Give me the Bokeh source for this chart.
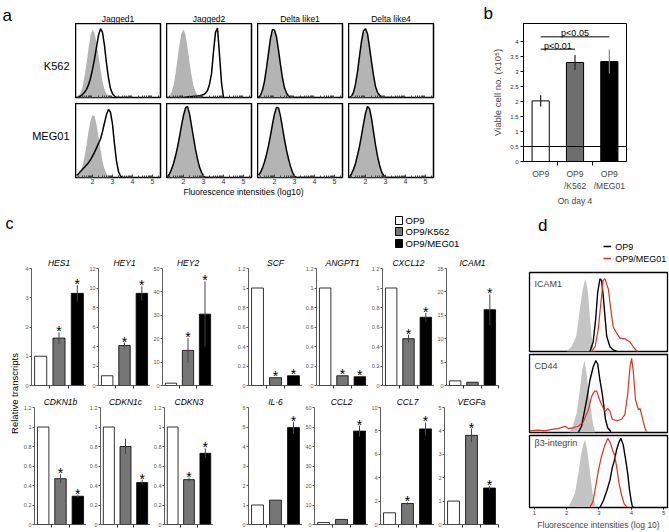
import math
from bokeh.plotting import figure
from bokeh.layouts import row, column
from bokeh.models import Range1d, FixedTicker, Label, LinearAxis, Span, NumeralTickFormatter, Title
from bokeh.core.properties import value
from bokeh.embed import file_html
from bokeh.resources import INLINE

FONT = "Liberation Sans"

# ---------------- panel a : flow histograms (log10 intensity) ----------------
a_ligands = ["Jagged1", "Jagged2", "Delta like1", "Delta like4"]
a_cells = ["K562", "MEG01"]
a_ticks = [2, 3, 4, 5]
a_x = [1.2, 1.3, 1.4, 1.5, 1.6, 1.7, 1.8, 1.9, 2.0, 2.1, 2.2, 2.3, 2.4, 2.5, 2.6,
       2.7, 2.8, 2.9, 3.0, 3.1, 3.2, 3.3, 3.4, 3.5, 3.6, 3.7, 3.8, 3.9, 4.0]
a_k562_isotype = [
    [0, .02, .06, .14, .28, .46, .66, .84, .92, .88, .74, .56, .38, .22, .11, .05, .02],
    [0, .02, .07, .16, .32, .52, .72, .87, .92, .85, .68, .48, .30, .16, .08, .03, .01],
    [0, .03, .09, .20, .38, .58, .76, .88, .90, .80, .62, .42, .25, .12, .05, .02],
    [0, .02, .07, .17, .33, .54, .74, .87, .90, .83, .66, .46, .28, .14, .06, .02],
]
a_k562_stain = [
    [0, 0, .02, .04, .07, .11, .17, .26, .38, .52, .68, .84, .93, .88, .70, .46, .26, .12, .05, .02],
    [0, 0, 0, 0, 0, 0, 0, 0, 0, .005, .008, .01, .012, .015, .018, .02, .025, .03, .04, .06,
     .09, .18, .32, .62, .88, .94, .58, .20, 0],
    [0, .03, .10, .22, .40, .60, .80, .92, .91, .82, .64, .44, .26, .13, .06, .02, .01],
    [0, .02, .07, .18, .35, .56, .76, .90, .93, .86, .68, .48, .30, .15, .07, .03, .01],
]
a_meg01_isotype = [
    [.01, .03, .08, .16, .28, .44, .62, .77, .84, .83, .72, .55, .38, .22, .11, .05, .02],
    [.02, .06, .12, .20, .30, .42, .56, .71, .85, .94, .93, .82, .66, .50, .35, .22, .12, .05, .01],
    [.04, .08, .14, .22, .32, .44, .58, .72, .86, .94, .92, .80, .64, .48, .34, .22, .12, .05, .01],
    [.01, .05, .10, .18, .28, .40, .55, .70, .85, .94, .92, .78, .60, .42, .27, .15, .07, .02],
]
a_meg01_stain = [
    [.03, .05, .08, .11, .14, .17, .20, .24, .29, .34, .40, .46, .52, .62, .74, .85, .92, .88,
     .72, .45, .22, .08, .02],
    [.01, .05, .11, .19, .29, .41, .55, .70, .84, .94, .96, .86, .70, .54, .38, .25, .14, .07, .02],
    [.03, .07, .13, .21, .31, .43, .57, .72, .86, .95, .94, .83, .67, .51, .37, .25, .15, .07, .02],
    [.01, .05, .11, .19, .30, .42, .57, .72, .87, .96, .93, .80, .62, .44, .29, .17, .08, .03],
]

# ---------------- panel b : viable cells ----------------
b_groups = ["OP9", "OP9\n/K562", "OP9\n/MEG01"]
b_values = [2.02, 3.30, 3.33]
b_errors = [0.19, 0.25, 0.40]
b_ticks = [0, 0.5, 1, 1.5, 2, 2.5, 3, 3.5, 4]
b_threshold = 0.5
b_sig_text = ["p<0.01", "p<0.05"]
b_sig_from = [0, 0]
b_sig_to = [1, 2]
b_sig_y = [3.74, 4.16]

# ---------------- panel c : relative transcripts ----------------
c_groups = ["OP9", "OP9/K562", "OP9/MEG01"]
c_genes = ["HES1", "HEY1", "HEY2", "SCF", "ANGPT1", "CXCL12", "ICAM1",
           "CDKN1b", "CDKN1c", "CDKN3", "IL-6", "CCL2", "CCL7", "VEGFa"]
c_op9 = [1.0, 1.0, 1.0, 1.0, 1.0, 1.0, 1.0, 1.0, 1.0, 1.0, 1.0, 1.0, 1.0, 1.0]
c_k562 = [1.62, 4.1, 15.0, 0.08, 0.10, 0.48, 0.7, 0.47, 0.80, 0.46, 1.25, 2.6, 1.8, 3.81]
c_k562_err = [0.2, 0.3, 5.3, 0.005, 0.005, 0.04, 0, 0.045, 0.08, 0.02, 0, 0, 0.1, 0.29]
c_meg01 = [3.15, 9.45, 30.5, 0.10, 0.09, 0.70, 16.2, 0.29, 0.43, 0.73, 4.97, 47.9, 8.17, 1.56]
c_meg01_err = [0.28, 0.75, 14.0, 0.005, 0.005, 0.045, 3.3, 0.015, 0.03, 0.05, 0.3, 2.8, 0.55, 0.08]
c_k562_star = [1, 1, 1, 1, 1, 1, 0, 1, 0, 1, 0, 0, 1, 1]
c_meg01_star = [1, 1, 1, 1, 1, 1, 1, 1, 1, 1, 1, 1, 1, 1]
c_ymax = [4, 12, 50, 1.2, 1.2, 1.2, 25, 1.2, 1.2, 1.2, 6, 60, 10, 5]
c_ystep = [1, 2, 10, 0.2, 0.2, 0.2, 5, 0.2, 0.2, 0.2, 1, 10, 2, 1]

# ---------------- panel d : flow histograms ----------------
d_markers = ["ICAM1", "CD44", "\u03b23-integrin"]
d_ticks = [1, 2, 3, 4, 5]
d_iso_x = [
    [2.0, 2.15, 2.3, 2.41, 2.48, 2.57, 2.62, 2.67, 2.72, 2.77, 2.82, 2.88],
    [2.1, 2.2, 2.31, 2.41, 2.48, 2.55, 2.59, 2.65, 2.72, 2.77, 2.82, 2.88],
    [2.05, 2.15, 2.26, 2.36, 2.44, 2.52, 2.57, 2.63, 2.69, 2.75, 2.8, 2.86, 2.9],
]
d_iso_y = [
    [0, .06, .2, .54, .75, .92, .85, .71, .42, .2, .06, 0],
    [0, .1, .25, .55, .8, .92, .84, .63, .42, .25, .1, .02],
    [0, .09, .21, .47, .72, .89, .94, .81, .6, .38, .21, .08, .01],
]
d_op9_x = [
    [2.72, 2.82, 2.9, 2.96, 3.03, 3.08, 3.13, 3.19, 3.24, 3.34, 3.44, 3.55],
    [2.36, 2.46, 2.55, 2.62, 2.72, 2.82, 2.9, 2.96, 3.03, 3.1, 3.16, 3.2, 3.27, 3.37],
    [3.03, 3.13, 3.24, 3.34, 3.41, 3.47, 3.55, 3.62, 3.68, 3.75, 3.82, 3.89, 3.94, 3.99, 4.03, 4.07],
]
d_op9_y = [
    [0, .12, .42, .75, .92, .9, .71, .42, .19, .06, .02, 0],
    [0, .08, .27, .42, .67, .84, .92, .88, .67, .5, .31, .17, .06, .01],
    [0, .09, .23, .38, .55, .64, .81, .91, .96, .87, .68, .47, .26, .11, .02, 0],
]
d_meg01_x = [
    [2.77, 2.88, 2.98, 3.06, 3.13, 3.19, 3.24, 3.29, 3.34, 3.39, 3.44, 3.55, 3.65, 3.8, 3.96,
     4.06, 4.16, 4.2],
    [0.87, 1.12, 1.33, 1.54, 1.74, 1.95, 2.05, 2.2, 2.36, 2.51, 2.67, 2.77, 2.86, 2.93, 3.0, 3.1,
     3.19, 3.27, 3.34, 3.41, 3.55, 3.7, 3.8, 3.89, 3.96, 4.01, 4.06, 4.13, 4.22, 4.27, 4.34, 4.42, 4.47],
    [2.72, 2.82, 2.9, 2.98, 3.06, 3.17, 3.27, 3.34, 3.41, 3.49, 3.55, 3.62, 3.7, 3.78, 3.86],
]
d_meg01_y = [
    [0, .06, .29, .62, .9, .92, .85, .79, .62, .46, .31, .23, .17, .16, .12, .06, .01, 0],
    [.02, .03, .02, .04, .05, .08, .05, .06, .08, .13, .29, .46, .53, .53, .44, .34, .27, .31, .27,
     .17, .15, .17, .23, .5, .84, .95, .79, .42, .29, .31, .19, .06, .01],
    [0, .09, .3, .51, .68, .85, .96, .91, .81, .72, .55, .34, .17, .05, .01],
]

GREY_A = "#b4b4b4"
GREY_D = "#c4c4c4"
BAR_GREY = "#767676"
RED = "#e0301e"


def pad(lst):
    return list(lst) + [0] * (len(a_x) - len(lst))


def base_fig(w, h, xr, yr, left=0, right=0, top=0, bottom=0, title=None):
    p = figure(width=w, height=h, x_range=xr, y_range=yr, output_backend="svg",
               toolbar_location=None, x_axis_location=None, y_axis_location=None,
               min_border_left=left, min_border_right=right, min_border_top=top,
               min_border_bottom=bottom, title=title)
    p.xgrid.visible = False
    p.ygrid.visible = False
    p.outline_line_color = None
    p.background_fill_color = "white"
    p.border_fill_color = "white"
    return p


def text_fig(w, h):
    return base_fig(w, h, Range1d(0, w), Range1d(h, 0))


def put(p, x, y, s, size, align="left", baseline="middle", angle=0, style="normal", color="black"):
    p.text(x=[x], y=[y], text=[s], text_font=value(FONT), text_font_size=size,
           text_align=align, text_baseline=baseline, angle=angle,
           text_font_style=style, text_color=color)


# ======================= panel a (x 0..440, y 0..208) =======================
a_minor = [d + math.log10(k) for d in range(1, 6) for k in range(2, 10)
           if 1.15 < d + math.log10(k) < 5.4]

a_left = text_fig(75, 208)
put(a_left, 2, 15, "a", "17px", baseline="alphabetic")
put(a_left, 69, 65, a_cells[0], "11px", align="right")
put(a_left, 69, 135, a_cells[1], "11px", align="right")

a_titles = text_fig(365, 23)
for k, lig in enumerate(a_ligands):
    put(a_titles, 42.5 + 91 * k, 18, lig, "8.5px", align="center")


def a_hist(iso, stain, bottom_axis):
    h = 83 if bottom_axis else 80
    bb = 9 if bottom_axis else 6
    p = base_fig(91, h, Range1d(1.15, 5.4), Range1d(0, 1.0), right=6, bottom=bb)
    p.outline_line_color = "black"
    p.outline_line_width = 1.5
    p.varea(x=a_x, y1=0, y2=pad(iso), fill_color=GREY_A)
    p.line(a_x, pad(stain), line_color="black", line_width=1.5)
    ax = LinearAxis(ticker=FixedTicker(ticks=a_ticks if bottom_axis else [], minor_ticks=a_minor),
                    major_tick_in=3, major_tick_out=0, minor_tick_in=2, minor_tick_out=0,
                    major_label_standoff=1, major_label_text_font_size="7px",
                    major_label_text_font=FONT, major_label_text_color="#333333",
                    axis_line_color=None, major_tick_line_color="#444444",
                    minor_tick_line_color="#444444")
    p.add_layout(ax, "below")
    return p


a_row1 = row(*[a_hist(a_k562_isotype[k], a_k562_stain[k], False) for k in range(4)])
a_row2 = row(*[a_hist(a_meg01_isotype[k], a_meg01_stain[k], True) for k in range(4)])
a_xlab = text_fig(365, 22)
put(a_xlab, 168, 5, "Fluorescence intensities (log10)", "8.5px", align="center")
panel_a = row(a_left, column(a_titles, a_row1, a_row2, a_xlab))

# ======================= panel b (x 440..669, y 0..208) =======================
b_title = Title(text="b", align="left", offset=-40, text_font=FONT, text_font_size="17px",
                text_font_style="normal", text_color="black", standoff=2)
fb = base_fig(229, 208, Range1d(0, 3), Range1d(0, 4.6), left=83, right=43, top=23, bottom=47,
              title=b_title)
fb.outline_line_color = "black"
fb.outline_line_width = 1
b_x = [i + 0.5 for i in range(len(b_groups))]
fb.vbar(x=b_x, width=0.5, bottom=0, top=b_values, fill_color=["white", "#6e6e6e", "black"],
        line_color="black", line_width=1)
fb.segment(x0=b_x, y0=[v - e for v, e in zip(b_values, b_errors)], x1=b_x,
           y1=[v + e for v, e in zip(b_values, b_errors)],
           line_color=["#222222", "#222222", "#888888"], line_width=1.2)
fb.add_layout(Span(location=b_threshold, dimension="width", line_color="black", line_width=1.2))
fb.segment(x0=[b_x[i] for i in b_sig_from], y0=b_sig_y, x1=[b_x[i] for i in b_sig_to], y1=b_sig_y,
           line_color="#555555", line_width=1.5)
fb.text(x=[(b_x[a] + b_x[b]) / 2 for a, b in zip(b_sig_from, b_sig_to)],
        y=[y + 0.12 for y in b_sig_y], text=b_sig_text, text_font=value(FONT),
        text_font_size="9px", text_align="center", text_baseline="alphabetic")
yax = LinearAxis(ticker=FixedTicker(ticks=b_ticks), formatter=NumeralTickFormatter(format="0.[0]"),
                 axis_label="Viable cell no. (x10\u2075)", axis_label_text_font=FONT,
                 axis_label_text_font_size="9.5px", axis_label_text_font_style="normal",
                 axis_label_standoff=4, major_label_text_font=FONT,
                 major_label_text_font_size="6px", major_label_text_color="#333333",
                 major_tick_out=3, major_tick_in=0, minor_tick_out=0, major_label_standoff=2)
fb.add_layout(yax, "left")
xax = LinearAxis(ticker=FixedTicker(ticks=b_x, minor_ticks=[1, 2]),
                 major_label_overrides={b_x[i]: b_groups[i] for i in range(3)},
                 axis_label="On day 4", axis_label_text_font=FONT,
                 axis_label_text_font_size="8.5px", axis_label_text_font_style="normal",
                 axis_label_standoff=2, major_label_text_font=FONT,
                 major_label_text_font_size="8.5px", major_tick_out=0, major_tick_in=0,
                 minor_tick_out=4, minor_tick_in=0, major_label_standoff=3)
fb.add_layout(xax, "below")
panel_b = fb

# ======================= panel c (x 0..505, y 208..532) =======================
c_left = text_fig(20, 324)
put(c_left, 5, 15, "c", "16px", baseline="alphabetic")
put(c_left, 14, 185, "Relative transcripts", "9.5px", align="center", angle=math.pi / 2)

c_colors = ["white", BAR_GREY, "black"]
c_strip = text_fig(485, 40)
c_strip.rect(x=[378.5] * 3, y=[12, 23, 35], width=7, height=8, fill_color=c_colors,
             line_color="black", line_width=1)
for j, g in enumerate(c_groups):
    put(c_strip, 385, [12, 23, 35][j], g, "9.5px")

c_widths = [66, 64, 63, 89, 66, 66, 71]
c_lb = [11, 11, 9, 35, 12, 12, 10]
c_rb = [0, 0, 0, 0, 0, 0, 7]


def c_chart(i, col, h, top, bottom):
    t = Title(text=c_genes[i], align="center", text_font=FONT, text_font_size="8.5px",
              text_font_style="italic", text_color="black", standoff=2)
    p = base_fig(c_widths[col], h, Range1d(0, 3), Range1d(0, c_ymax[i]), left=c_lb[col],
                 right=c_rb[col], top=top, bottom=bottom, title=t)
    cx = [0.5, 1.5, 2.5]
    vals = [c_op9[i], c_k562[i], c_meg01[i]]
    errs = [0, c_k562_err[i], c_meg01_err[i]]
    p.vbar(x=cx, width=0.66, bottom=0, top=vals, fill_color=c_colors, line_color="black",
           line_width=0.8)
    ex = [cx[j] for j in range(3) if errs[j] > 0]
    if ex:
        p.segment(x0=ex, x1=ex, y0=[vals[j] - errs[j] for j in range(3) if errs[j] > 0],
                  y1=[vals[j] + errs[j] for j in range(3) if errs[j] > 0],
                  line_color="#444444", line_width=1)
    stars = [j for j, s in ((1, c_k562_star[i]), (2, c_meg01_star[i])) if s]
    p.text(x=[cx[j] for j in stars], y=[vals[j] + errs[j] for j in stars], text=["*"] * len(stars),
           text_font=value(FONT), text_font_size="14px", text_align="center",
           text_baseline="alphabetic", y_offset=-1)
    n = int(round(c_ymax[i] / c_ystep[i]))
    ticks = [round(k * c_ystep[i], 3) for k in range(n + 1)]
    ya = LinearAxis(ticker=FixedTicker(ticks=ticks), formatter=NumeralTickFormatter(format="0.[0]"),
                    major_label_text_font=FONT, major_label_text_font_size="5.5px",
                    major_label_text_color="#555555", major_tick_out=2, major_tick_in=0,
                    major_label_standoff=1, axis_line_color="#333333", axis_line_width=0.8,
                    major_tick_line_color="#555555")
    p.add_layout(ya, "left")
    xa = LinearAxis(ticker=FixedTicker(ticks=[], minor_ticks=[1, 2, 3]), minor_tick_out=3,
                    minor_tick_in=0, axis_line_color="#333333", axis_line_width=0.8,
                    minor_tick_line_color="#333333")
    p.add_layout(xa, "below")
    return p


c_row1 = row(*[c_chart(i, i, 144, 20, 7) for i in range(7)])
c_row2 = row(*[c_chart(7 + i, i, 140, 15, 8) for i in range(7)])
panel_c = row(c_left, column(c_strip, c_row1, c_row2))

# ======================= panel d (x 505..669, y 208..532) =======================
d_strip = text_fig(164, 63)
put(d_strip, 10, 17, "d", "17px", baseline="alphabetic")
d_strip.segment(x0=[88, 88], y0=[38, 50], x1=[97, 97], y1=[38, 50], line_color=["black", RED],
                line_width=1.5)
put(d_strip, 102, 38, "OP9", "9px")
put(d_strip, 102, 50, "OP9/MEG01", "9px")


def d_fig(k, h, top, bottom, with_axis):
    p = base_fig(164, h, Range1d(0.85, 5.12), Range1d(0, 1.0), left=24, right=2, top=top,
                 bottom=bottom)
    p.outline_line_color = "black"
    p.outline_line_width = 1.3
    p.varea(x=d_iso_x[k], y1=0, y2=d_iso_y[k], fill_color=GREY_D)
    p.line(d_op9_x[k], d_op9_y[k], line_color="black", line_width=1.4)
    p.line(d_meg01_x[k], d_meg01_y[k], line_color=RED, line_width=1.2)
    fh = h - top - bottom
    p.add_layout(Label(x=5, y=fh - 11, x_units="screen", y_units="screen", text=d_markers[k],
                       text_font=FONT, text_font_size="9px", text_baseline="middle"))
    if with_axis:
        ax = LinearAxis(ticker=FixedTicker(ticks=d_ticks), major_tick_out=2, major_tick_in=0,
                        major_label_standoff=1, major_label_text_font=FONT,
                        major_label_text_font_size="6px",
                        axis_label="Fluorescence intensities (log 10)",
                        axis_label_text_font=FONT, axis_label_text_font_size="8.5px",
                        axis_label_text_font_style="normal", axis_label_standoff=2)
        p.add_layout(ax, "below")
    return p


panel_d = column(d_strip, d_fig(0, 82, 1, 2, False), d_fig(1, 81, 1, 2, False),
                 d_fig(2, 98, 1, 21, True))

root = column(row(panel_a, panel_b), row(panel_c, panel_d))
open("out.html", "w").write(file_html(root, INLINE))
